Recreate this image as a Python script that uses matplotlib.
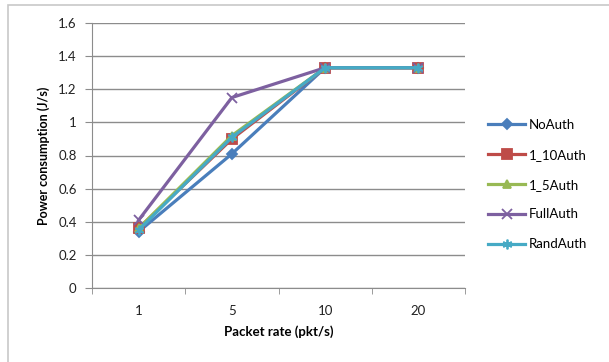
import numpy as np
import matplotlib
matplotlib.use('Agg')
import matplotlib.pyplot as plt
from matplotlib.patches import Rectangle

# data
rates = ['1', '5', '10', '20']
series_names = ['NoAuth', '1_10Auth', '1_5Auth', 'FullAuth', 'RandAuth']
no_auth = [0.34, 0.81, 1.33, 1.33]
auth_1_10 = [0.36, 0.90, 1.33, 1.33]
auth_1_5 = [0.36, 0.92, 1.33, 1.33]
full_auth = [0.41, 1.15, 1.33, 1.33]
rand_auth = [0.35, 0.91, 1.33, 1.33]

plt.rcParams['font.family'] = ['Lato', 'DejaVu Sans']

colors = ['#4A7EBB', '#BE4B48', '#98B954', '#7D60A0', '#46AAC5']
markers = ['D', 's', '^', 'x', (6, 2, 0)]
msizes = [5, 7, 6, 7, 7]
values = [no_auth, auth_1_10, auth_1_5, full_auth, rand_auth]

fig = plt.figure(figsize=(6.09, 3.62), dpi=100)
# outer chart border
fig.patches.append(Rectangle((8 / 609, -0.1), 0.99, 1 - 5 / 362 + 0.1,
                             transform=fig.transFigure, fill=False,
                             edgecolor='#C8C8C8', linewidth=1.2))

ax = fig.add_axes([92 / 609, 74 / 362, 373 / 609, 265 / 362])
x = np.arange(len(rates))
for vals, name, c, m, ms in zip(values, series_names, colors, markers, msizes):
    ax.plot(x, vals, color=c, linewidth=2.3, marker=m, markersize=ms,
            markeredgewidth=1.3, label=name)

ax.set_xlim(-0.5, len(rates) - 0.5)
ax.set_ylim(0, 1.6)
ax.set_yticks(np.arange(0, 1.61, 0.2))
ax.set_yticklabels(['0', '0.2', '0.4', '0.6', '0.8', '1', '1.2', '1.4', '1.6'])
ax.yaxis.grid(True, color='#8C8C8C', linewidth=1)
ax.set_axisbelow(True)
ax.tick_params(axis='y', length=5, color='#8C8C8C', labelsize=9.5, pad=6, labelcolor='#222222')

ax.set_xticks(x)
ax.set_xticklabels(rates)
ax.set_xticks(np.arange(-0.5, len(rates), 1), minor=True)
ax.tick_params(axis='x', which='major', length=0, labelsize=9.5, pad=12, labelcolor='#222222')
ax.tick_params(axis='x', which='minor', length=4, color='#8C8C8C')

for s in ['top', 'right']:
    ax.spines[s].set_visible(False)
for s in ['left', 'bottom']:
    ax.spines[s].set_color('#8C8C8C')

ax.set_xlabel('Packet rate (pkt/s)', fontsize=9.5, fontweight='bold', labelpad=6)
ax.set_ylabel('Power consumption (J/s)', fontsize=9, fontweight='bold', labelpad=6)

ax.legend(loc='center left', bbox_to_anchor=(1.03, 0.39), frameon=False,
          fontsize=9.5, labelspacing=1.35, handlelength=2.8, handletextpad=0.3)

fig.savefig('out.png', dpi=100)
